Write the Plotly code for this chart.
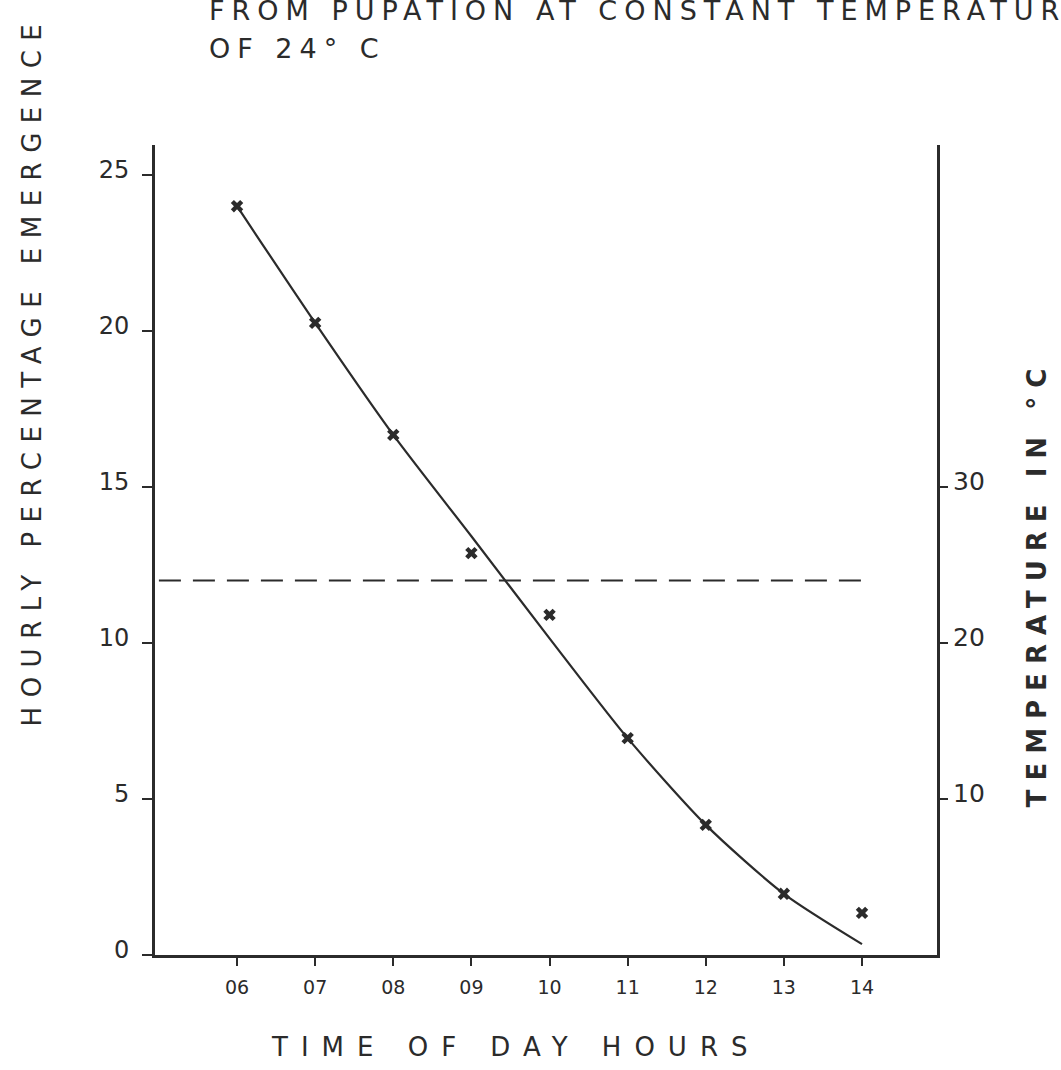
import plotly.graph_objects as go

# ---- data ----
hours = [6, 7, 8, 9, 10, 11, 12, 13, 14]
hour_labels = ["06", "07", "08", "09", "10", "11", "12", "13", "14"]
emergence_observed = [24.0, 20.26, 16.67, 12.88, 10.9, 6.95, 4.17, 1.96, 1.35]
emergence_fitted = [24.0, 20.26, 16.67, 13.42, 10.15, 6.95, 4.17, 1.96, 0.35]
temperature_hours = [5.0, 14.1]
temperature_values = [24, 24]
left_ticks = [0, 5, 10, 15, 20, 25]
right_ticks = [10, 20, 30]

INK = "#2b2b2b"
FONT = "DejaVu Sans"


def spaced(text, px):
    return f'<span style="letter-spacing:{px}px">{text}</span>'


fig = go.Figure()
fig.add_trace(go.Scatter(
    x=hours, y=emergence_fitted, mode="lines",
    line=dict(color=INK, width=2.2, shape="spline", smoothing=0.7),
    hoverinfo="skip"))
fig.add_trace(go.Scatter(
    x=hours, y=emergence_observed, mode="markers",
    marker=dict(symbol="x", size=11, color=INK)))
fig.add_trace(go.Scatter(
    x=temperature_hours, y=temperature_values, yaxis="y2", mode="lines",
    line=dict(color=INK, width=2, dash="22px,12px")))

fig.update_layout(
    width=1061, height=1070,
    margin=dict(l=155, r=124, t=145, b=115),
    paper_bgcolor="white", plot_bgcolor="white",
    showlegend=False,
    font=dict(family=FONT, color=INK),
    xaxis=dict(
        range=[4.95, 14.96], tickmode="array", tickvals=hours, ticktext=hour_labels,
        ticks="outside", ticklen=8, tickwidth=2, tickcolor=INK,
        showline=True, linewidth=3, linecolor=INK,
        showgrid=False, zeroline=False,
        tickfont=dict(size=19, color=INK, family=FONT),
        ticklabelstandoff=5),
    yaxis=dict(
        range=[0, 25.96], tickmode="array", tickvals=left_ticks,
        ticks="outside", ticklen=10, tickwidth=2, tickcolor=INK,
        showline=True, linewidth=3, linecolor=INK,
        showgrid=False, zeroline=False,
        tickfont=dict(size=24, color=INK, family=FONT),
        ticklabelstandoff=8, ticklabelshift=-5),
    yaxis2=dict(
        overlaying="y", side="right",
        range=[0, 51.92], tickmode="array", tickvals=right_ticks,
        ticks="outside", ticklen=8, tickwidth=2, tickcolor=INK,
        showline=True, linewidth=3, linecolor=INK,
        showgrid=False, zeroline=False,
        tickfont=dict(size=25, color=INK, family=FONT),
        ticklabelstandoff=0, ticklabelshift=-6),
    annotations=[
        dict(text=spaced("FROM PUPATION AT CONSTANT TEMPERATURE", 7),
             xref="paper", yref="paper", x=0.0665, y=1.1665,
             xanchor="left", yanchor="middle", align="left", showarrow=False,
             font=dict(size=27, color=INK, family=FONT)),
        dict(text=spaced("OF 24° C", 7),
             xref="paper", yref="paper", x=0.0665, y=1.119,
             xanchor="left", yanchor="middle", align="left", showarrow=False,
             font=dict(size=27, color=INK, family=FONT)),
        dict(text=spaced("HOURLY PERCENTAGE EMERGENCE", 9.5),
             xref="paper", yref="paper", x=-0.157, y=0.722, textangle=-90,
             xanchor="center", yanchor="middle", showarrow=False,
             font=dict(size=26, color=INK, family=FONT)),
        dict(text=spaced("<b>TEMPERATURE IN °C</b>", 9),
             xref="paper", yref="paper", x=1.128, y=0.459, textangle=-90,
             xanchor="center", yanchor="middle", showarrow=False,
             font=dict(size=26, color=INK, family=FONT)),
        dict(text=spaced("TIME OF DAY HOURS", 13),
             xref="paper", yref="paper", x=0.4616, y=-0.1136,
             xanchor="center", yanchor="middle", showarrow=False,
             font=dict(size=26, color=INK, family=FONT)),
    ],
)

fig.write_html("out.html")
